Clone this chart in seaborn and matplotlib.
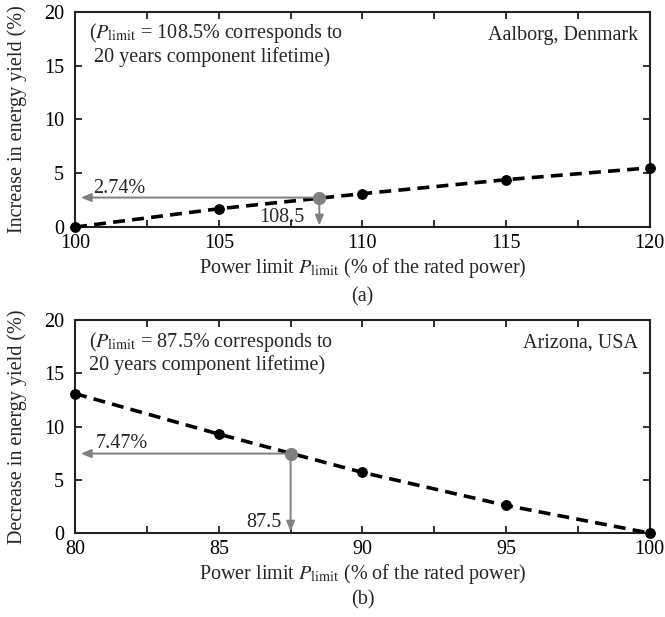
import numpy as np
import pandas as pd
import matplotlib
matplotlib.use("Agg")
import matplotlib.pyplot as plt
import seaborn as sns

# Aalborg, Denmark: increase in energy yield
aalborg_limit = [100, 105, 110, 115, 120]
aalborg_gain = [0.0, 1.7, 3.1, 4.4, 5.5]
aalborg_op = (108.5, 2.74)

# Arizona, USA: decrease in energy yield
arizona_limit = [80, 85, 90, 95, 100]
arizona_loss = [13.1, 9.3, 5.7, 2.6, 0.0]
arizona_op = (87.5, 7.47)

sns.set_style("ticks")
plt.rcParams['font.family'] = ['Liberation Serif', 'DejaVu Serif']
plt.rcParams['mathtext.fontset'] = 'stix'
fs = 14.5

grey = '#808080'

fig = plt.figure(figsize=(6.65, 6.17), dpi=100)
ax1 = fig.add_axes([0.113, 0.632, 0.864, 0.349])
ax2 = fig.add_axes([0.113, 0.136, 0.864, 0.345])


def draw_panel(ax, xs, ys, op, ylabel, site, note, xlim, pct_label, x_label_txt, pct_xy, x_xy, tag, tag_y):
    df = pd.DataFrame({'x': xs, 'y': ys})
    sns.lineplot(data=df, x='x', y='y', ax=ax, color='black', lw=2.6,
                 linestyle=(0, (3.3, 2)), marker='o', markersize=7,
                 markeredgecolor='black', clip_on=False, zorder=3)
    ax.set_xlim(*xlim)
    ax.set_ylim(0, 20)
    ax.set_xticks(np.arange(xlim[0], xlim[1] + 0.1, 5))
    ax.set_xticks(np.arange(xlim[0], xlim[1] + 0.1, 2.5), minor=True)
    ax.set_yticks([0, 5, 10, 15, 20])
    ax.tick_params(which='both', direction='in', top=True, right=True,
                   length=5, width=1.3, labelsize=fs, colors='#222222',
                   labelcolor='black')
    ax.tick_params(axis='y', pad=8)
    ax.tick_params(axis='x', pad=5)
    for sp in ax.spines.values():
        sp.set_linewidth(1.5)
        sp.set_color('#222222')
    ax.set_xlabel(r'Power limit $P_{\rm limit}$ (% of the rated power)', fontsize=fs, labelpad=2)
    ax.set_ylabel(ylabel, fontsize=fs, labelpad=12)

    # operating point with arrows to both axes
    ax.annotate('', xy=(xlim[0] + 0.2, op[1]), xytext=op,
                arrowprops=dict(arrowstyle='-|>,head_length=0.6,head_width=0.25',
                                color=grey, lw=1.4, shrinkA=0, shrinkB=0), zorder=4)
    ax.annotate('', xy=(op[0], 0.15), xytext=op,
                arrowprops=dict(arrowstyle='-|>,head_length=0.6,head_width=0.25',
                                color=grey, lw=1.4, shrinkA=0, shrinkB=0), zorder=4)
    ax.plot(op[0], op[1], 'o', color=grey, markersize=8.5, zorder=5)
    ax.text(pct_xy[0], pct_xy[1], pct_label, fontsize=fs, ha='left', va='baseline')
    ax.text(x_xy[0], x_xy[1], x_label_txt, fontsize=fs, ha='right', va='baseline')

    ax.text(0.979, 0.87, site, transform=ax.transAxes, ha='right', va='baseline', fontsize=fs)
    ax.text(0.024, 0.955, note, transform=ax.transAxes, ha='left', va='top',
            fontsize=fs, linespacing=1.1)
    ax.text(0.5, tag_y, tag, transform=ax.transAxes, ha='center', va='center', fontsize=fs)


draw_panel(ax1, aalborg_limit, aalborg_gain, aalborg_op,
           'Increase in energy yield (%)', 'Aalborg, Denmark',
           '(' + r'$P_{\rm limit}$' + ' = 108.5% corresponds to\n 20 years component lifetime)',
           (100, 120), '2.74%', '108.5', (100.63, 3.15), (107.97, 0.47), '(a)', -0.326)

draw_panel(ax2, arizona_limit, arizona_loss, arizona_op,
           'Decrease in energy yield (%)', 'Arizona, USA',
           '(' + r'$P_{\rm limit}$' + ' = 87.5% corresponds to\n20 years component lifetime)',
           (80, 100), '7.47%', '87.5', (80.7, 8.0), (87.2, 0.56), '(b)', -0.315)

fig.savefig('out.png', dpi=100)
